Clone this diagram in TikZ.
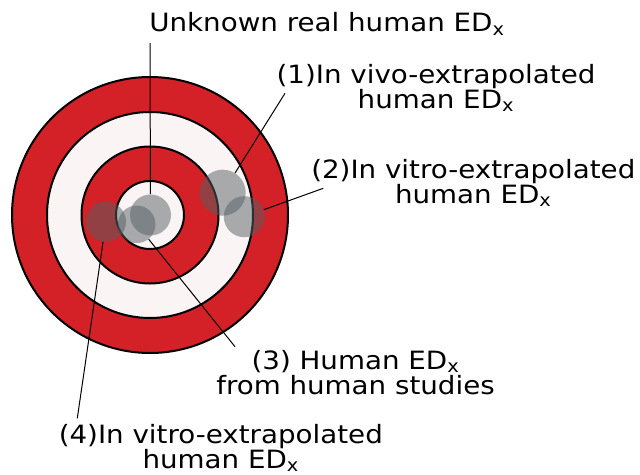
\documentclass[tikz,border=0pt]{standalone}
\usepackage{fontspec}
\setmainfont{DejaVu Sans}[FakeStretch=1.1]
\definecolor{tred}{RGB}{211,33,39}
\definecolor{tpale}{RGB}{250,244,244}
\definecolor{dotgray}{RGB}{85,95,99}
\begin{document}
\begin{tikzpicture}[x=0.75pt, y=-0.75pt,
    ring/.style={draw=black, line width=1.5pt},
    dot/.style={circle, fill=dotgray, fill opacity=0.5, inner sep=0pt},
    lbl/.style={align=center, inner sep=0pt, anchor=base, font=\fontsize{18.9}{18.75}\selectfont}]
    \useasboundingbox (0,0) rectangle (640,475);

    \coordinate (ctr) at (150,215);
    \draw[ring, fill=tred] (ctr) circle (138);
    \draw[ring, fill=tpale] (ctr) circle (103);
    \draw[ring, fill=tred] (ctr) circle (68.5);
    \draw[ring, fill=tpale] (ctr) circle (34);

    \node[dot, minimum size=30.75pt] (real) at (150.5,215) {};
    \node[dot, minimum size=28.2pt] (hum) at (136.7,224.3) {};
    \node[dot, minimum size=30pt] (vitroB) at (106,221.7) {};
    \node[dot, minimum size=34.5pt] (vivo) at (222.7,192.7) {};
    \node[dot, minimum size=30.75pt] (vitroA) at (244.3,216.7) {};

    \node[lbl] (realtxt) at (327,31.7) {Unknown real human ED\textsubscript{x}};
    \node[lbl] (vivotxt) at (436,108.3) {(1)In vivo-extrapolated\\human ED\textsubscript{x}};
    \node[lbl] (vitroAtxt) at (473.3,203.3) {(2)In vitro-extrapolated\\human ED\textsubscript{x}};
    \node[lbl] (humtxt) at (355.5,394) {(3) Human ED\textsubscript{x}\\from human studies};
    \node[lbl] (vitroBtxt) at (220.8,468.3) {(4)In vitro-extrapolated\\human ED\textsubscript{x}};

    \coordinate (realend) at (150,43);
    \coordinate (vivoend) at (285,93.3);
    \coordinate (vitroAend) at (323.3,188.3);
    \coordinate (humend) at (235,346.7);
    \coordinate (vitroBend) at (77.3,418.3);

    \draw[line width=0.75pt] (realend) -- (real);
    \draw[line width=0.75pt] (vivoend) -- (vivo);
    \draw[line width=0.75pt] (vitroAend) -- (vitroA);
    \draw[line width=0.75pt] (humend) -- (hum);
    \draw[line width=0.75pt] (vitroBend) -- (vitroB);
\end{tikzpicture}
\end{document}
